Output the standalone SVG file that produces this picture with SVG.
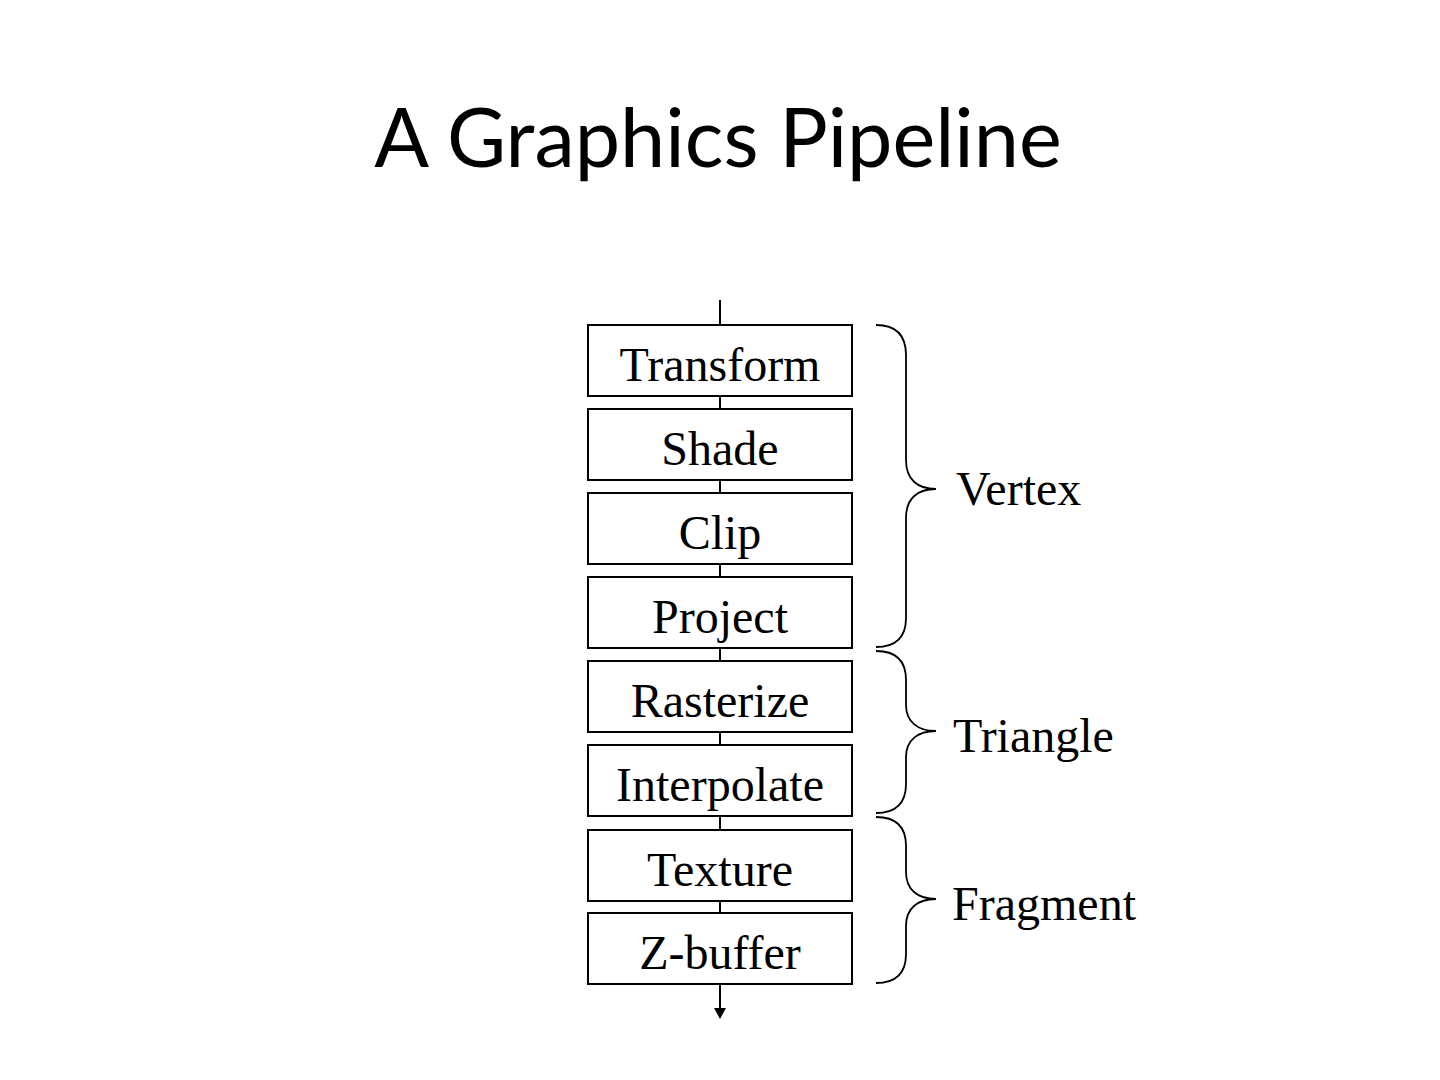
<svg xmlns="http://www.w3.org/2000/svg" width="1440" height="1080" viewBox="0 0 1440 1080">
<style>
.box{fill:#fff;stroke:#000;stroke-width:2}
.lbl{font-family:"Liberation Serif",serif;font-size:48px;fill:#000;text-anchor:middle}
.grp{font-family:"Liberation Serif",serif;font-size:48px;fill:#000}
.brace{fill:none;stroke:#000;stroke-width:1.8}
.title{font-family:Lato,"Open Sans",sans-serif;font-size:81px;fill:#000;text-anchor:middle}
</style>
<rect width="1440" height="1080" fill="#fff"/>
<text class="title" x="718" y="167">A Graphics Pipeline</text>
<g id="connectors">
<line x1="720" y1="300" x2="720" y2="1008" stroke="#000" stroke-width="2"/>
<path d="M714,1008 L726,1008 L720,1019 Z" fill="#000"/>
</g>
<g id="transform"><rect class="box" x="588" y="325" width="264" height="71"/><text class="lbl" x="720" y="381">Transform</text></g>
<g id="shade"><rect class="box" x="588" y="409" width="264" height="71"/><text class="lbl" x="720" y="465">Shade</text></g>
<g id="clip"><rect class="box" x="588" y="493" width="264" height="71"/><text class="lbl" x="720" y="549">Clip</text></g>
<g id="project"><rect class="box" x="588" y="577" width="264" height="71"/><text class="lbl" x="720" y="633">Project</text></g>
<g id="rasterize"><rect class="box" x="588" y="661" width="264" height="71"/><text class="lbl" x="720" y="717">Rasterize</text></g>
<g id="interpolate"><rect class="box" x="588" y="745" width="264" height="71"/><text class="lbl" x="720" y="801">Interpolate</text></g>
<g id="texture"><rect class="box" x="588" y="830" width="264" height="71"/><text class="lbl" x="720" y="886">Texture</text></g>
<g id="zbuffer"><rect class="box" x="588" y="913" width="264" height="71"/><text class="lbl" x="720" y="969">Z-buffer</text></g>
<g id="vertex">
<path class="brace" d="M876,325 C896,325 906,335 906,355 L906,460 C906,480 918,489 936,489 C918,489 906,498 906,518 L906,618 C906,638 896,647 876,647"/>
<text class="grp" x="956" y="505">Vertex</text>
</g>
<g id="triangle">
<path class="brace" d="M876,651 C896,651 906,661 906,680 L906,705 C906,722 918,731 936,731 C918,731 906,740 906,757 L906,784 C906,804 896,813 876,813"/>
<text class="grp" x="953" y="752">Triangle</text>
</g>
<g id="fragment">
<path class="brace" d="M876,817 C896,817 906,827 906,846 L906,872 C906,890 918,899 936,899 C918,899 906,908 906,926 L906,954 C906,974 896,983 876,983"/>
<text class="grp" x="952" y="920">Fragment</text>
</g>
</svg>
